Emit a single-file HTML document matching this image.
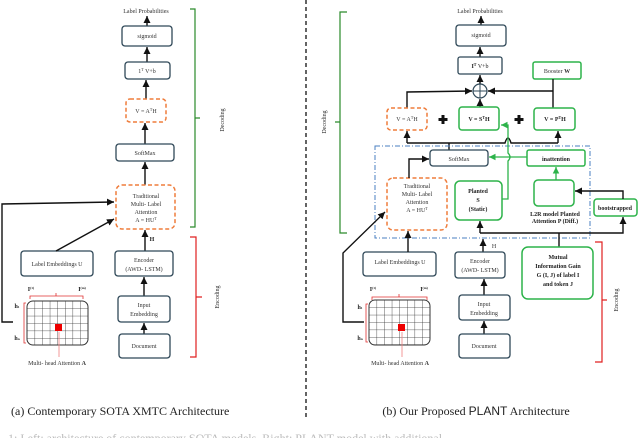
<!DOCTYPE html>
<html><head><meta charset="utf-8"><style>
html,body{margin:0;padding:0;background:#fff;}
svg{display:block;font-family:"Liberation Serif",serif;}
.b{fill:#fff;stroke:#2f4858;stroke-width:1.3;}
.o{fill:#fff;stroke:#ef7d3c;stroke-width:1.5;stroke-dasharray:4,2.5;}
.g{fill:#fff;stroke:#2db34a;stroke-width:1.5;}
.t{font-size:6px;fill:#333;text-anchor:middle;}
.tb{font-size:6px;fill:#222;text-anchor:middle;font-weight:bold;}
.l{stroke:#111;stroke-width:1.4;fill:none;}
.gl{stroke:#2db34a;stroke-width:1.3;fill:none;}
</style></head><body>
<svg width="640" height="438" viewBox="0 0 640 438" xmlns="http://www.w3.org/2000/svg">
<defs>
<marker id="a" markerWidth="6" markerHeight="6" refX="5" refY="3" orient="auto"><path d="M0,0.5 L5,3 L0,5.5z" fill="#111"/></marker>
<marker id="ag" markerWidth="6" markerHeight="6" refX="5" refY="3" orient="auto"><path d="M0,0.5 L5,3 L0,5.5z" fill="#2db34a"/></marker>
<pattern id="grid" x="27" y="301" width="7.6" height="7.4" patternUnits="userSpaceOnUse"><path d="M0,0 V7.4 M0,0 H7.6" stroke="#333" stroke-width="0.8" fill="none"/></pattern>
<pattern id="grid2" x="369" y="300" width="7.6" height="7.4" patternUnits="userSpaceOnUse"><path d="M0,0 V7.4 M0,0 H7.6" stroke="#333" stroke-width="0.8" fill="none"/></pattern>
</defs>

<line x1="306" y1="0" x2="306" y2="420" stroke="#111" stroke-width="1.3" stroke-dasharray="4,3"/>

<!-- LEFT PANEL -->
<text x="146" y="13" class="t">Label Probabilities</text>
<line x1="147" y1="26" x2="147" y2="16" class="l" marker-end="url(#a)"/>
<rect x="122" y="26" width="50" height="20" rx="3" class="b"/><text x="147" y="38" class="t">sigmoid</text>
<line x1="147" y1="62" x2="147" y2="47" class="l" marker-end="url(#a)"/>
<rect x="125" y="62" width="45" height="17" rx="3" class="b"/><text x="147" y="73" class="t">1<tspan dy="-2" font-size="4">T</tspan><tspan dy="2"> V+b</tspan></text>
<line x1="146" y1="99" x2="146" y2="80" class="l" marker-end="url(#a)"/>
<rect x="126" y="99" width="40" height="23" rx="4" class="o"/><text x="146" y="113" class="t">V = A<tspan dy="-2" font-size="4">T</tspan><tspan dy="2">H</tspan></text>
<line x1="145" y1="144" x2="145" y2="123" class="l" marker-end="url(#a)"/>
<rect x="116" y="144" width="58" height="17" rx="3" class="b"/><text x="145" y="155" class="t">SoftMax</text>
<line x1="145" y1="185" x2="145" y2="162" class="l" marker-end="url(#a)"/>
<rect x="116" y="185" width="59" height="44" rx="6" class="o"/>
<text x="146" y="198" class="t">Traditional</text><text x="146" y="206" class="t">Multi- Label</text><text x="146" y="214" class="t">Attention</text><text x="146" y="222" class="t">A = HU<tspan dy="-2" font-size="4">T</tspan></text>
<text x="152" y="241" class="tb" font-size="5">H</text>
<line x1="145" y1="251" x2="145" y2="230" class="l" marker-end="url(#a)"/>
<rect x="115" y="251" width="58" height="25" rx="3" class="b"/><text x="144" y="262" class="t">Encoder</text><text x="144" y="271" class="t">(AWD- LSTM)</text>
<line x1="144" y1="296" x2="144" y2="277" class="l" marker-end="url(#a)"/>
<rect x="118" y="296" width="52" height="26" rx="3" class="b"/><text x="144" y="307" class="t">Input</text><text x="144" y="316" class="t">Embedding</text>
<line x1="144" y1="334" x2="144" y2="323" class="l" marker-end="url(#a)"/>
<rect x="119" y="334" width="51" height="24" rx="3" class="b"/><text x="144" y="348" class="t">Document</text>
<rect x="21" y="251" width="72" height="25" rx="3" class="b"/><text x="57" y="266" class="t">Label Embeddings U</text>
<line x1="56" y1="251" x2="114" y2="219" class="l" marker-end="url(#a)"/>
<polyline points="13,322 2,322 2,204 114,202" class="l" marker-end="url(#a)"/>
<rect x="27" y="301" width="61" height="44" rx="6" fill="url(#grid)" stroke="#333" stroke-width="1"/>
<rect x="55" y="324" width="7" height="7" fill="#e00"/>
<line x1="59" y1="357" x2="59" y2="332" stroke="#f08080" stroke-width="0.8"/>
<text x="57" y="365" class="t" font-size="5.5">Multi- head Attention <tspan font-weight="bold">A</tspan></text>
<text x="31" y="291" class="tb" font-size="5">I<tspan dy="-2" font-size="3.5">(1)</tspan></text>
<text x="82" y="291" class="tb" font-size="5">I<tspan dy="-2" font-size="3.5">(m)</tspan></text>
<path d="M30,299 V296 H83 V299 M56,296 V293" stroke="#e03030" stroke-width="0.8" fill="none"/>
<path d="M26,303 H24 V343 H26" stroke="#e03030" stroke-width="0.8" fill="none"/>
<text x="17" y="308" class="tb" font-size="5">h<tspan font-size="3.5">1</tspan></text>
<text x="17" y="340" class="tb" font-size="5">h<tspan font-size="3.5">n</tspan></text>
<path d="M190,9 H195 V118 H200 M195,118 V227 H190" stroke="#2a8a2a" stroke-width="1.2" fill="none"/>
<text transform="translate(224,120) rotate(-90)" class="t" font-size="6.5">Decoding</text>
<path d="M190,237 H196 V297 H202 M196,297 V357 H190" stroke="#e02020" stroke-width="1.2" fill="none"/>
<text transform="translate(219,297) rotate(-90)" class="t" font-size="6.5">Encoding</text>
<text x="11" y="415" font-size="12" fill="#222">(a) Contemporary SOTA XMTC Architecture</text>

<!-- RIGHT PANEL -->
<text x="480" y="13" class="t">Label Probabilities</text>
<line x1="481" y1="25" x2="481" y2="16" class="l" marker-end="url(#a)"/>
<rect x="456" y="25" width="50" height="21" rx="3" class="b"/><text x="481" y="37" class="t">sigmoid</text>
<line x1="480" y1="57" x2="480" y2="47" class="l" marker-end="url(#a)"/>
<rect x="458" y="57" width="44" height="17" rx="2" class="b"/><text x="480" y="68" class="tb">I<tspan dy="-2" font-size="4">T</tspan><tspan dy="2" font-weight="normal"> V+b</tspan></text>
<rect x="533" y="62" width="48" height="17" rx="2" class="g"/><text x="557" y="73" class="t">Booster <tspan font-weight="bold">W</tspan></text>
<line x1="480" y1="84" x2="480" y2="75" class="l" marker-end="url(#a)"/>
<circle cx="480" cy="91" r="7" fill="#fff" stroke="#2f4858" stroke-width="1.2"/>
<path d="M473,91 H487 M480,84 V98" stroke="#2f4858" stroke-width="1"/>
<polyline points="407,108 407,92 472,91" class="l" marker-end="url(#a)"/>
<polyline points="553,79 553,108" class="l"/>
<line x1="553" y1="91" x2="488" y2="91" class="l" marker-end="url(#a)"/>
<line x1="480" y1="107" x2="480" y2="99" class="l" marker-end="url(#a)"/>
<rect x="387" y="108" width="40" height="22" rx="4" class="o"/><text x="407" y="121" class="t">V = A<tspan dy="-2" font-size="4">T</tspan><tspan dy="2">H</tspan></text>
<path d="M443,115 V124 M438.5,119.5 H447.5" stroke="#111" stroke-width="3"/>
<rect x="459" y="107" width="40" height="23" rx="3" class="g"/><text x="479" y="121" class="tb">V = S<tspan dy="-2" font-size="4">T</tspan><tspan dy="2">H</tspan></text>
<path d="M519,115 V124 M514.5,119.5 H523.5" stroke="#111" stroke-width="3"/>
<rect x="534" y="108" width="41" height="22" rx="3" class="g"/><text x="555" y="121" class="tb">V = P<tspan dy="-2" font-size="4">T</tspan><tspan dy="2">H</tspan></text>
<path d="M407,143 H505 Q508,133 511,143 H558" class="l"/>
<line x1="407" y1="143" x2="407" y2="131" class="l" marker-end="url(#a)"/>
<line x1="558" y1="143" x2="558" y2="131" class="l" marker-end="url(#a)"/>
<line x1="449" y1="150" x2="449" y2="143" class="l"/>
<rect x="375" y="146" width="215" height="92" fill="none" stroke="#4a7fc0" stroke-width="1" stroke-dasharray="5,2,1,2"/>
<rect x="430" y="150" width="58" height="16" rx="3" class="b"/><text x="459" y="161" class="t">SoftMax</text>
<rect x="527" y="150" width="58" height="16" rx="2" class="g"/><text x="556" y="161" class="tb">inattention</text>
<line x1="527" y1="157" x2="489" y2="157" class="gl" marker-end="url(#ag)"/>
<path d="M502,199 H508 V161 Q512,157 508,153 V125 H501" class="gl" marker-end="url(#ag)"/>
<rect x="387" y="178" width="60" height="52" rx="6" class="o"/>
<text x="417" y="188" class="t">Traditional</text><text x="417" y="196" class="t">Multi- Label</text><text x="417" y="204" class="t">Attention</text><text x="417" y="212" class="t">A = HU<tspan dy="-2" font-size="4">T</tspan></text>
<polyline points="409,178 409,159 429,159" class="l" marker-end="url(#a)"/>
<rect x="455" y="181" width="47" height="39" rx="5" class="g"/>
<text x="478" y="193" class="tb">Planted</text><text x="478" y="202" class="tb">S</text><text x="478" y="211" class="tb">(Static)</text>
<rect x="534" y="180" width="40" height="26" rx="4" class="g"/>
<line x1="556" y1="180" x2="556" y2="167" class="gl" marker-end="url(#ag)"/>
<text x="555" y="216" class="tb" font-size="4.5">L2R model Planted</text>
<text x="555" y="223" class="tb" font-size="4.5">Attention P (Diff.)</text>
<rect x="594" y="199" width="43" height="17" rx="3" class="g"/><text x="615" y="210" class="tb" font-size="5">bootstrapped</text>
<polyline points="623,199 623,191 575,191" class="l" marker-end="url(#a)"/>
<polyline points="480,233 623,233 623,217" class="l" marker-end="url(#a)"/>
<line x1="480" y1="233" x2="480" y2="221" class="l" marker-end="url(#a)"/>
<line x1="559" y1="247" x2="559" y2="233" class="l"/>
<rect x="522" y="247" width="71" height="52" rx="6" class="g"/>
<text x="558" y="259" class="tb">Mutual</text><text x="558" y="268" class="tb">Information Gain</text><text x="558" y="277" class="tb">G (I, J) of label I</text><text x="558" y="286" class="tb">and token J</text>
<text x="494" y="248" class="t" font-size="4.5">H</text>
<line x1="483" y1="252" x2="483" y2="239" class="l" marker-end="url(#a)"/>
<rect x="455" y="252" width="50" height="26" rx="3" class="b"/><text x="480" y="263" class="t">Encoder</text><text x="480" y="272" class="t">(AWD- LSTM)</text>
<line x1="484" y1="295" x2="484" y2="279" class="l" marker-end="url(#a)"/>
<rect x="459" y="295" width="51" height="25" rx="3" class="b"/><text x="484" y="306" class="t">Input</text><text x="484" y="315" class="t">Embedding</text>
<line x1="484" y1="334" x2="484" y2="321" class="l" marker-end="url(#a)"/>
<rect x="459" y="334" width="51" height="24" rx="3" class="b"/><text x="484" y="348" class="t">Document</text>
<rect x="363" y="252" width="73" height="24" rx="3" class="b"/><text x="400" y="264" class="t">Label Embeddings U</text>
<line x1="408" y1="252" x2="408" y2="231" class="l" marker-end="url(#a)"/>
<polyline points="364,322 343,322 343,253 385,212" class="l" marker-end="url(#a)"/>
<rect x="369" y="300" width="61" height="45" rx="6" fill="url(#grid2)" stroke="#333" stroke-width="1"/>
<rect x="398" y="324" width="7" height="7" fill="#e00"/>
<line x1="402" y1="357" x2="402" y2="332" stroke="#f08080" stroke-width="0.8"/>
<text x="400" y="365" class="t" font-size="5.5">Multi- head Attention <tspan font-weight="bold">A</tspan></text>
<text x="373" y="291" class="tb" font-size="5">I<tspan dy="-2" font-size="3.5">(1)</tspan></text>
<text x="424" y="291" class="tb" font-size="5">I<tspan dy="-2" font-size="3.5">(m)</tspan></text>
<path d="M372,300 V297 H427 V300 M399,297 V294" stroke="#e03030" stroke-width="0.8" fill="none"/>
<path d="M368,304 H366 V342 H368" stroke="#e03030" stroke-width="0.8" fill="none"/>
<text x="360" y="309" class="tb" font-size="5">h<tspan font-size="3.5">1</tspan></text>
<text x="360" y="340" class="tb" font-size="5">h<tspan font-size="3.5">n</tspan></text>
<path d="M347,12 H340 V122 H335 M340,122 V233 H347" stroke="#2a8a2a" stroke-width="1.2" fill="none"/>
<text transform="translate(326,122) rotate(-90)" class="t" font-size="6.5">Decoding</text>
<path d="M595,242 H602 V300 H607 M602,300 V362 H595" stroke="#e02020" stroke-width="1.2" fill="none"/>
<text transform="translate(618,300) rotate(-90)" class="t" font-size="6.5">Encoding</text>
<text x="476" y="415" font-size="12" fill="#222" text-anchor="middle">(b) Our Proposed <tspan font-family="Liberation Sans, sans-serif">PLANT</tspan> Architecture</text>
<text x="8" y="442" font-size="12" fill="#bbb">1: Left: architecture of contemporary SOTA models. Right: PLANT model with additional</text>
</svg>
</body></html>
